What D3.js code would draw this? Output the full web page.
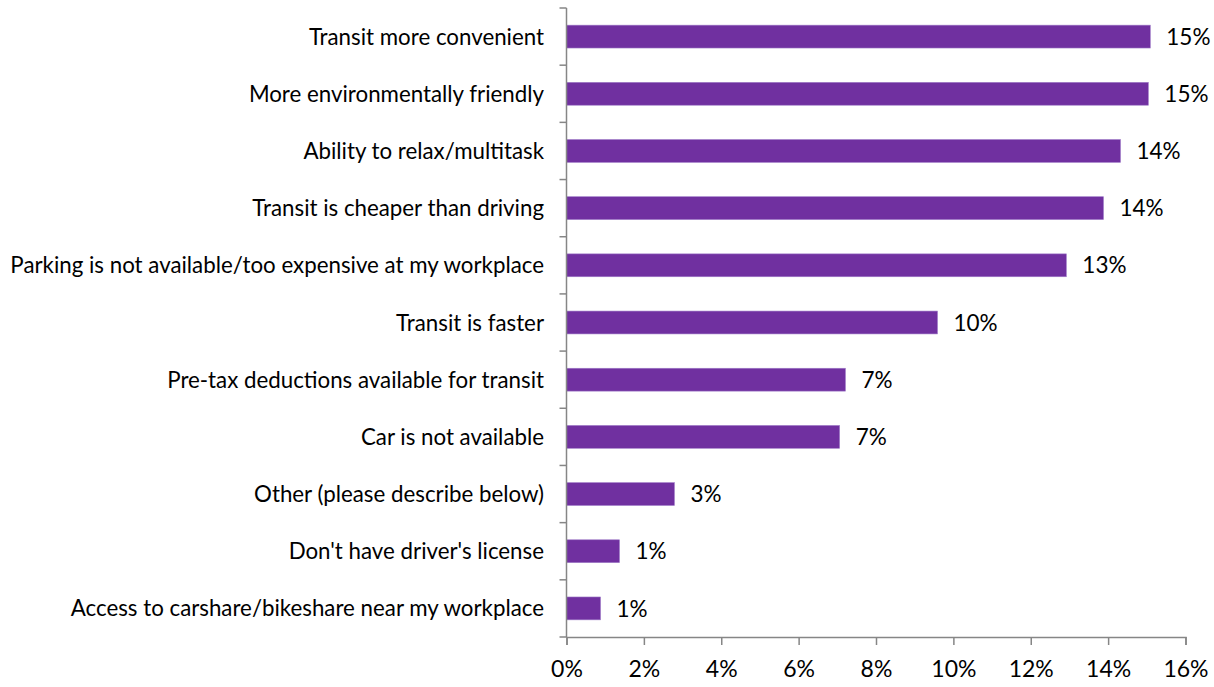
<!DOCTYPE html>
<html>
<head>
<meta charset="utf-8">
<script src="https://cdn.jsdelivr.net/npm/d3@7"></script>
<style>
  html, body { margin: 0; padding: 0; background: #fff; }
  svg { display: block; }
</style>
</head>
<body>
<svg id="chart" width="1214" height="687"></svg>
<script>
const categories = [
  "Transit more convenient",
  "More environmentally friendly",
  "Ability to relax/multitask",
  "Transit is cheaper than driving",
  "Parking is not available/too expensive at my workplace",
  "Transit is faster",
  "Pre-tax deductions available for transit",
  "Car is not available",
  "Other (please describe below)",
  "Don't have driver's license",
  "Access to carshare/bikeshare near my workplace"
];
const values = [15.09, 15.04, 14.32, 13.88, 12.92, 9.59, 7.21, 7.06, 2.79, 1.37, 0.88];
const valueLabels = ["15%", "15%", "14%", "14%", "13%", "10%", "7%", "7%", "3%", "1%", "1%"];
const xTicks = [0, 2, 4, 6, 8, 10, 12, 14, 16];

(function () {
const FONT = "Lato, 'Open Sans', sans-serif";
const svg = d3.select("#chart");
const mLeft = 566.5, mRight = 1185.5, mTop = 8, mBottom = 637;

const x = d3.scaleLinear().domain([0, 16]).range([mLeft, mRight]);
const y = d3.scaleBand().domain(categories).range([mTop, mBottom]).paddingInner(0.6).paddingOuter(0.3);

svg.append("g").selectAll("rect").data(categories).join("rect")
  .attr("x", x(0))
  .attr("y", d => y(d))
  .attr("width", (d, i) => x(values[i]) - x(0))
  .attr("height", y.bandwidth())
  .attr("fill", "#7030A0")
  .attr("stroke", "#a07cc8")
  .attr("stroke-width", 0.6);

svg.append("g").selectAll("text").data(categories).join("text")
  .attr("x", (d, i) => x(values[i]) + 16)
  .attr("y", d => y(d) + y.bandwidth() / 2)
  .attr("dy", "0.36em")
  .attr("font-family", FONT)
  .attr("font-size", 22.5)
  .attr("fill", "#000")
  .text((d, i) => valueLabels[i]);

svg.append("g").selectAll("text").data(categories).join("text")
  .attr("x", 544)
  .attr("y", d => y(d) + y.bandwidth() / 2)
  .attr("dy", "0.36em")
  .attr("text-anchor", "end")
  .attr("font-family", FONT)
  .attr("font-size", 22.3)
  .attr("fill", "#000")
  .text(d => d);

const axisColor = "#868686";
svg.append("line")
  .attr("x1", mLeft).attr("x2", mLeft).attr("y1", mTop).attr("y2", mBottom)
  .attr("stroke", axisColor).attr("stroke-width", 1.5);
const boundaries = d3.range(categories.length + 1).map(i => mTop + i * (mBottom - mTop) / categories.length);
svg.append("g").selectAll("line").data(boundaries).join("line")
  .attr("x1", mLeft - 7).attr("x2", mLeft)
  .attr("y1", d => d).attr("y2", d => d)
  .attr("stroke", axisColor).attr("stroke-width", 1.5);

const xAxis = d3.axisBottom(x).tickValues(xTicks).tickFormat(d => d + "%").tickSize(8).tickPadding(16);
const gx = svg.append("g").attr("transform", `translate(0,${mBottom})`).call(xAxis);
gx.select(".domain").attr("stroke", axisColor).attr("stroke-width", 1.5);
gx.selectAll(".tick line").attr("stroke", axisColor).attr("stroke-width", 1.5);
gx.selectAll(".tick text").attr("font-family", FONT).attr("font-size", 23).attr("fill", "#000");
})();
</script>
</body>
</html>
